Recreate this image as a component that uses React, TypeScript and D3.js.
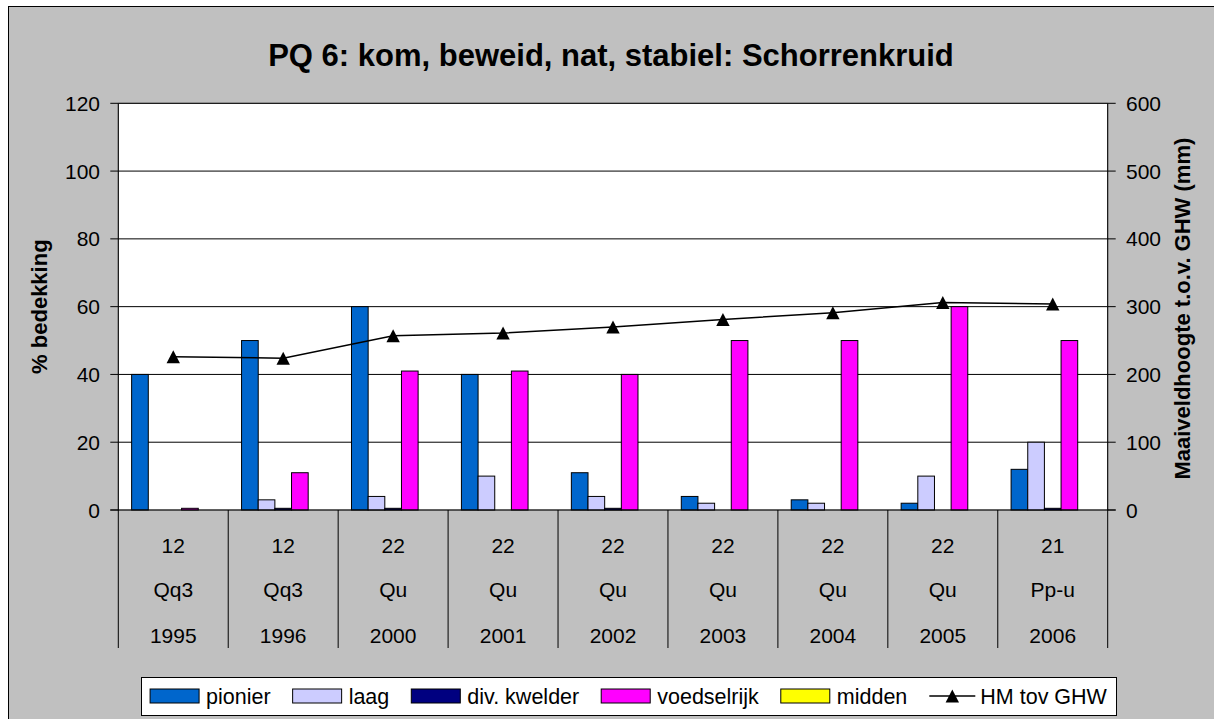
import React, { useEffect, useRef } from 'react';
import * as d3 from 'd3';

// category table (three rows under the x axis)
const counts = ['12', '12', '22', '22', '22', '22', '22', '22', '21'];
const codes = ['Qq3', 'Qq3', 'Qu', 'Qu', 'Qu', 'Qu', 'Qu', 'Qu', 'Pp-u'];
const years = ['1995', '1996', '2000', '2001', '2002', '2003', '2004', '2005', '2006'];

// % bedekking per vegetation type
const pionier = [40, 50, 60, 40, 11, 4, 3, 2, 12];
const laag = [0, 3, 4, 10, 4, 2, 2, 10, 20];
const divKwelder = [0, 0.5, 0.5, 0, 0.5, 0, 0, 0, 0.5];
const voedselrijk = [0.5, 11, 41, 41, 40, 50, 50, 60, 50];
const midden = [0, 0, 0, 0, 0, 0, 0, 0, 0];

// maaiveldhoogte t.o.v. GHW (mm), right axis
const hmTovGhw = [226, 224, 257, 261, 270, 281, 291, 306, 304];

const seriesNames = ['pionier', 'laag', 'div. kwelder', 'voedselrijk', 'midden'];
const seriesColors = ['#0066cc', '#ccccff', '#000080', '#ff00ff', '#ffff00'];
const seriesValues = [pionier, laag, divKwelder, voedselrijk, midden];
const lineName = 'HM tov GHW';

const leftTicks = [0, 20, 40, 60, 80, 100, 120];
const rightTicks = [0, 100, 200, 300, 400, 500, 600];

const title = 'PQ 6: kom, beweid, nat, stabiel: Schorrenkruid';
const leftTitle = '% bedekking';
const rightTitle = 'Maaiveldhoogte t.o.v. GHW (mm)';

export default function App() {
    const svgRef = useRef<SVGSVGElement>(null);

    const width = 1214;
    const height = 719;
    const plot = { left: 118.3, right: 1107.7, top: 103.3, bottom: 510 };
    const tableBottom = 648;
    const font = '"Liberation Sans", Arial, sans-serif';
    const triangle = 'M0,-6.5L6.7,6.5L-6.7,6.5Z';

    useEffect(() => {
        const svg = d3.select(svgRef.current);
        svg.selectAll('*').remove();

        // Scales
        const x0 = d3.scaleBand<string>()
            .domain(years)
            .range([plot.left, plot.right])
            .padding(0);
        const x1 = d3.scaleBand<string>()
            .domain(seriesNames)
            .range([0, x0.bandwidth()])
            .paddingInner(0)
            .paddingOuter(0.8);
        const yLeft = d3.scaleLinear().domain([0, 120]).range([plot.bottom, plot.top]);
        const yRight = d3.scaleLinear().domain([0, 600]).range([plot.bottom, plot.top]);

        // chart background
        svg.append('rect')
            .attr('x', 8.5).attr('y', 6.5)
            .attr('width', width + 10).attr('height', height + 10)
            .attr('fill', '#c0c0c0')
            .attr('stroke', '#000');

        // plot area
        svg.append('rect')
            .attr('x', plot.left).attr('y', plot.top)
            .attr('width', plot.right - plot.left)
            .attr('height', plot.bottom - plot.top)
            .attr('fill', '#fff')
            .attr('stroke', '#808080');

        // gridlines
        svg.append('g')
            .selectAll('line')
            .data(leftTicks.slice(1))
            .enter()
            .append('line')
                .attr('x1', plot.left).attr('x2', plot.right)
                .attr('y1', d => yLeft(d)).attr('y2', d => yLeft(d))
                .attr('stroke', '#000')
                .attr('stroke-width', 1);

        // Title
        svg.append('text')
            .attr('x', 611).attr('y', 66)
            .attr('text-anchor', 'middle')
            .style('font-family', font)
            .style('font-size', '31px')
            .style('font-weight', 'bold')
            .text(title);

        // left axis
        const gl = svg.append('g');
        gl.append('line')
            .attr('x1', plot.left).attr('x2', plot.left)
            .attr('y1', plot.top).attr('y2', plot.bottom)
            .attr('stroke', '#000');
        leftTicks.forEach(t => {
            gl.append('line')
                .attr('x1', plot.left - 8).attr('x2', plot.left)
                .attr('y1', yLeft(t)).attr('y2', yLeft(t))
                .attr('stroke', '#000');
            gl.append('text')
                .attr('x', 100).attr('y', yLeft(t))
                .attr('dy', '0.36em')
                .attr('text-anchor', 'end')
                .style('font-family', font)
                .style('font-size', '21px')
                .text(t);
        });
        gl.append('text')
            .attr('transform', `translate(47, ${(plot.top + plot.bottom) / 2}) rotate(-90)`)
            .attr('text-anchor', 'middle')
            .style('font-family', font)
            .style('font-size', '22px')
            .style('font-weight', 'bold')
            .text(leftTitle);

        // right axis
        const gr = svg.append('g');
        gr.append('line')
            .attr('x1', plot.right).attr('x2', plot.right)
            .attr('y1', plot.top).attr('y2', plot.bottom)
            .attr('stroke', '#000');
        rightTicks.forEach(t => {
            gr.append('line')
                .attr('x1', plot.right).attr('x2', plot.right + 8)
                .attr('y1', yRight(t)).attr('y2', yRight(t))
                .attr('stroke', '#000');
            gr.append('text')
                .attr('x', 1126).attr('y', yRight(t))
                .attr('dy', '0.36em')
                .style('font-family', font)
                .style('font-size', '21px')
                .text(t);
        });
        gr.append('text')
            .attr('transform', `translate(1190, ${(plot.top + plot.bottom) / 2 + 2}) rotate(-90)`)
            .attr('text-anchor', 'middle')
            .style('font-family', font)
            .style('font-size', '22px')
            .style('font-weight', 'bold')
            .text(rightTitle);

        // bars
        const bars = svg.append('g');
        seriesNames.forEach((name, si) => {
            const vals = seriesValues[si];
            bars.selectAll(`rect.s${si}`)
                .data(years.map((yr, i) => ({ yr, v: vals[i] })).filter(d => d.v > 0))
                .enter()
                .append('rect')
                    .attr('class', `s${si}`)
                    .attr('x', d => (x0(d.yr) as number) + (x1(name) as number))
                    .attr('y', d => yLeft(d.v))
                    .attr('width', x1.bandwidth())
                    .attr('height', d => plot.bottom - yLeft(d.v))
                    .attr('fill', seriesColors[si])
                    .attr('stroke', '#000')
                    .attr('stroke-width', 1);
        });

        // category axis line + table
        const gx = svg.append('g');
        gx.append('line')
            .attr('x1', plot.left - 8).attr('x2', plot.right + 8)
            .attr('y1', plot.bottom).attr('y2', plot.bottom)
            .attr('stroke', '#000');
        [...years.map(y => x0(y) as number), plot.right].forEach(xv => {
            gx.append('line')
                .attr('x1', xv).attr('x2', xv)
                .attr('y1', plot.bottom).attr('y2', tableBottom)
                .attr('stroke', '#000');
        });
        const rows = [counts, codes, years];
        const rowBase = [552.5, 597, 642.5];
        rows.forEach((row, ri) => {
            gx.selectAll(`text.r${ri}`)
                .data(row)
                .enter()
                .append('text')
                    .attr('class', `r${ri}`)
                    .attr('x', (d, i) => (x0(years[i]) as number) + x0.bandwidth() / 2)
                    .attr('y', rowBase[ri])
                    .attr('text-anchor', 'middle')
                    .style('font-family', font)
                    .style('font-size', '21px')
                    .text(d => d);
        });

        // HM line
        const line = d3.line<number>()
            .x((d, i) => (x0(years[i]) as number) + x0.bandwidth() / 2)
            .y(d => yRight(d));
        svg.append('path')
            .datum(hmTovGhw)
            .attr('d', line)
            .attr('fill', 'none')
            .attr('stroke', '#000')
            .attr('stroke-width', 1.5);
        svg.selectAll('path.marker')
            .data(hmTovGhw)
            .enter()
            .append('path')
                .attr('class', 'marker')
                .attr('d', triangle)
                .attr('transform', (d, i) => `translate(${(x0(years[i]) as number) + x0.bandwidth() / 2}, ${yRight(d)})`)
                .attr('fill', '#000');

        // Legend
        const box = { x: 141, y: 677, w: 975, h: 38 };
        svg.append('rect')
            .attr('x', box.x + 0.5).attr('y', box.y + 0.5)
            .attr('width', box.w).attr('height', box.h)
            .attr('fill', '#fff')
            .attr('stroke', '#000');
        const lg = svg.append('g');
        let cx = 0;
        const midY = box.y + box.h / 2;
        seriesNames.forEach((name, si) => {
            lg.append('rect')
                .attr('x', cx).attr('y', midY - 7)
                .attr('width', 49).attr('height', 14)
                .attr('fill', seriesColors[si])
                .attr('stroke', '#000');
            const t = lg.append('text')
                .attr('x', cx + 56).attr('y', midY)
                .attr('dy', '0.36em')
                .style('font-family', font)
                .style('font-size', '21.5px')
                .text(name);
            cx += 56 + (t.node() as SVGTextElement).getComputedTextLength() + 22;
        });
        lg.append('line')
            .attr('x1', cx).attr('x2', cx + 46)
            .attr('y1', midY).attr('y2', midY)
            .attr('stroke', '#000').attr('stroke-width', 1.5);
        lg.append('path')
            .attr('d', triangle)
            .attr('transform', `translate(${cx + 23}, ${midY})`)
            .attr('fill', '#000');
        const lt = lg.append('text')
            .attr('x', cx + 51).attr('y', midY)
            .attr('dy', '0.36em')
            .style('font-family', font)
            .style('font-size', '21.5px')
            .text(lineName);
        const total = cx + 51 + (lt.node() as SVGTextElement).getComputedTextLength();
        lg.attr('transform', `translate(${box.x + (box.w - total) / 2}, 0)`);
    }, []);

    return (
        <svg ref={svgRef}
            width={width}
            height={height}
            style={{ position: 'absolute', left: 0, top: 0, display: 'block' }}>
        </svg>
    );
}
